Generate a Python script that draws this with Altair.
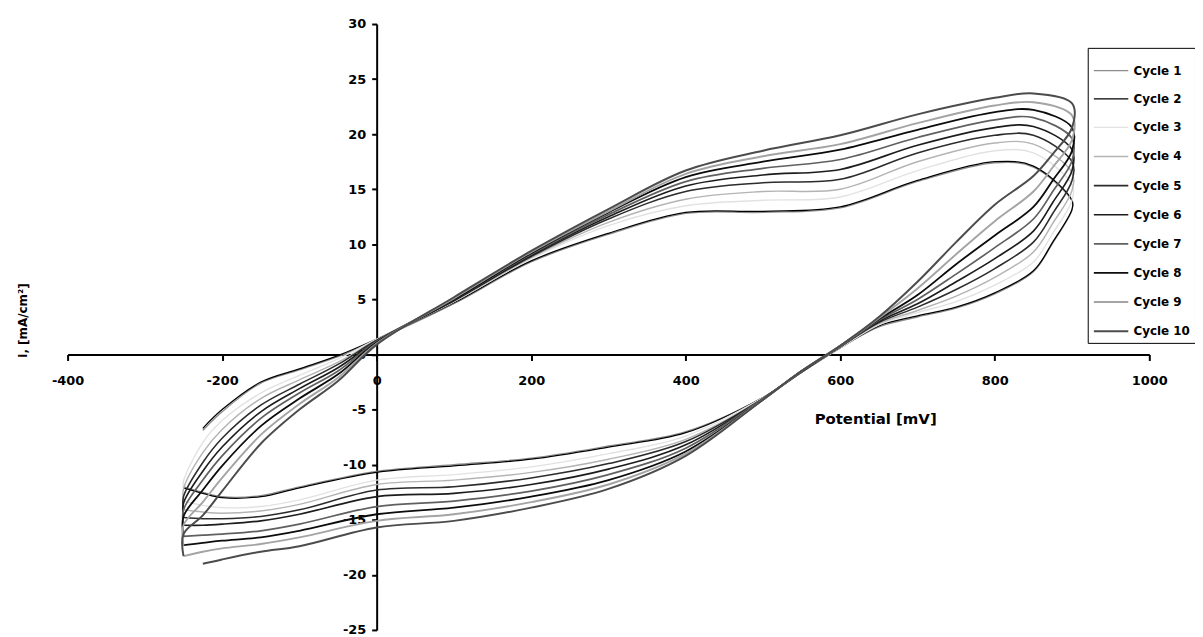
import altair as alt
import pandas as pd

cycles = [f"Cycle {n}" for n in range(1, 11)]
colors = ["#8c8c8c", "#000000", "#e2e2e2", "#b4b4b4", "#2c2c2c",
          "#1c1c1c", "#606060", "#0c0c0c", "#a4a4a4", "#4c4c4c"]
widths = [1.2, 2, 2, 2, 2, 2, 2, 2, 2, 2]

# potential grid of the anodic (forward) sweep, mV
E_an = [-250, -225, -200, -150, -100, -50, 0, 100, 200, 300, 400, 500, 600, 700, 800, 850, 900]
# potential grid of the cathodic (reverse) sweep, mV
E_ca = [900, 875, 850, 800, 750, 700, 650, 600, 550, 500, 400, 300, 200, 100, 0, -100, -150, -200, -225, -250]

# current at -250 mV where each cycle begins (end of previous cycle)
start_i = [None, None, -12.1, -13.3, -14.1, -14.8, -15.5, -16.5, -17.3, -18.3]

an1 = [None, -6.9, -5.2, -2.6, -1.4, -0.2, 1.3, 4.6, 8.4, 10.9, 12.8, 12.9, 13.3, 15.7, 17.4, 17.0, 13.9]
an2 = [None, -6.7, -5.0, -2.5, -1.3, -0.1, 1.4, 4.7, 8.5, 11.0, 12.9, 13.0, 13.4, 15.8, 17.5, 17.1, 14.0]
an3 = [-11.5, -8.0, -6.0, -3.5, -1.9, -0.4, 1.4, 4.8, 8.7, 11.7, 13.5, 14.0, 14.3, 16.7, 18.5, 18.3, 15.4]
an4 = [-12.2, -8.9, -6.8, -4.0, -2.3, -0.7, 1.3, 4.8, 8.8, 12.0, 14.1, 14.8, 15.0, 17.5, 19.2, 19.1, 16.5]
an5 = [-12.9, -9.8, -7.6, -4.6, -2.7, -0.9, 1.3, 4.9, 8.9, 12.3, 14.8, 15.6, 15.9, 18.3, 19.9, 19.9, 17.5]
an6 = [-13.5, -10.6, -8.4, -5.2, -3.1, -1.2, 1.2, 4.9, 9.0, 12.5, 15.3, 16.3, 16.8, 19.0, 20.6, 20.7, 18.6]
an7 = [-14.1, -11.4, -9.2, -5.8, -3.5, -1.5, 1.2, 5.0, 9.1, 12.7, 15.7, 16.9, 17.7, 19.7, 21.3, 21.5, 19.6]
an8 = [-14.7, -12.3, -10.1, -6.5, -4.0, -1.8, 1.1, 5.0, 9.2, 12.9, 16.1, 17.5, 18.6, 20.4, 22.0, 22.2, 20.6]
an9 = [-15.5, -13.4, -11.2, -7.3, -4.5, -2.1, 1.0, 5.1, 9.3, 13.0, 16.4, 18.0, 19.1, 21.0, 22.6, 22.9, 21.7]
an10 = [-16.3, -14.6, -12.4, -8.1, -5.0, -2.4, 0.9, 5.2, 9.4, 13.2, 16.7, 18.5, 19.9, 21.8, 23.3, 23.7, 22.8]

ca1 = [13.1, 10.1, 7.5, 5.5, 4.2, 3.4, 2.5, 0.6, -1.6, -3.9, -7.0, -8.3, -9.4, -10.0, -10.6, -12.0, -12.8, -12.9, -12.5, -12.0]
ca2 = [13.2, 10.2, 7.6, 5.6, 4.3, 3.5, 2.6, 0.6, -1.6, -3.9, -7.1, -8.4, -9.5, -10.1, -10.7, -12.1, -12.9, -13.0, -12.6, -12.1]
ca3 = [14.0, 11.0, 8.4, 6.3, 4.8, 3.8, 2.7, 0.6, -1.6, -3.9, -7.4, -9.0, -10.2, -10.9, -11.4, -13.2, -13.8, -13.9, -13.7, -13.3]
ca4 = [14.9, 11.9, 9.3, 7.0, 5.3, 4.0, 2.8, 0.7, -1.6, -4.0, -7.7, -9.5, -10.7, -11.4, -11.8, -13.6, -14.2, -14.4, -14.3, -14.1]
ca5 = [15.8, 12.8, 10.2, 7.8, 5.9, 4.3, 2.9, 0.7, -1.6, -4.0, -7.9, -9.9, -11.2, -12.0, -12.3, -14.1, -14.7, -14.9, -14.9, -14.8]
ca6 = [16.7, 13.8, 11.2, 8.7, 6.6, 4.6, 3.0, 0.7, -1.5, -4.0, -8.2, -10.4, -11.8, -12.6, -12.9, -14.5, -15.1, -15.4, -15.5, -15.5]
ca7 = [17.6, 14.8, 12.3, 9.7, 7.3, 5.0, 3.1, 0.7, -1.5, -4.0, -8.5, -10.9, -12.4, -13.3, -13.8, -15.4, -16.0, -16.3, -16.4, -16.5]
ca8 = [18.5, 15.8, 13.4, 10.8, 8.2, 5.4, 3.2, 0.8, -1.5, -4.1, -8.8, -11.4, -12.9, -13.9, -14.5, -16.0, -16.6, -16.9, -17.1, -17.3]
ca9 = [19.5, 17.0, 14.8, 12.1, 9.1, 6.0, 3.3, 0.8, -1.5, -4.1, -9.0, -11.8, -13.4, -14.5, -15.1, -16.6, -17.2, -17.6, -17.9, -18.3]
ca10 = [20.6, 18.2, 16.2, 13.6, 10.2, 6.6, 3.4, 0.8, -1.5, -4.1, -9.2, -12.2, -13.9, -15.1, -15.7, -17.4, -17.9, -18.6, -19.0, None]

x_ticks = [-400, -200, 0, 200, 400, 600, 800, 1000]
y_ticks = [-25, -20, -15, -10, -5, 0, 5, 10, 15, 20, 25, 30]

anodic = [an1, an2, an3, an4, an5, an6, an7, an8, an9, an10]
cathodic = [ca1, ca2, ca3, ca4, ca5, ca6, ca7, ca8, ca9, ca10]

rows = []
for k, name in enumerate(cycles):
    seq = 0
    if start_i[k] is not None:
        rows.append({"cycle": name, "E": -250, "i": start_i[k], "seq": seq})
        seq += 1
    for E, v in zip(E_an, anodic[k]):
        if v is not None:
            rows.append({"cycle": name, "E": E, "i": v, "seq": seq})
            seq += 1
    for E, v in zip(E_ca, cathodic[k]):
        if v is not None:
            rows.append({"cycle": name, "E": E, "i": v, "seq": seq})
            seq += 1
df = pd.DataFrame(rows)

W, H = 1089, 610
FONT = "DejaVu Sans"

x_axis = alt.Axis(
    values=x_ticks, offset=-H * 25 / 55, grid=False,
    domainColor="black", domainWidth=2, tickColor="black", tickWidth=2, tickSize=6,
    labelFont=FONT, labelFontWeight="bold", labelFontSize=13, labelColor="black",
    labelPadding=14, labelFlush=False, labelOverlap=False,
    labelExpr="'' + datum.value",
    title="Potential [mV]", titleFont=FONT, titleFontWeight="bold", titleFontSize=15,
    titleColor="black", titleX=813, titleY=64, titleAlign="center", titleBaseline="middle",
)
y_axis = alt.Axis(
    values=y_ticks, offset=-W * 400 / 1400, grid=False,
    domainColor="black", domainWidth=2, tickColor="black", tickWidth=2, tickSize=5,
    labelFont=FONT, labelFontWeight="bold", labelFontSize=13, labelColor="black",
    labelPadding=6, labelFlush=False, labelOverlap=False,
    labelExpr="'' + datum.value",
    title="i, [mA/cm²]", titleFont=FONT, titleFontWeight="bold", titleFontSize=12,
    titleColor="black", titleAngle=270, titleX=-357, titleY=298,
    titleAlign="center", titleBaseline="middle",
)

chart = alt.Chart(df).mark_line(interpolate="catmull-rom").encode(
    x=alt.X("E:Q", scale=alt.Scale(domain=[-400, 1000], nice=False, zero=False), axis=x_axis),
    y=alt.Y("i:Q", scale=alt.Scale(domain=[-25, 30], nice=False, zero=False), axis=y_axis),
    color=alt.Color("cycle:N", scale=alt.Scale(domain=cycles, range=colors),
                    legend=alt.Legend(
                        orient="none", legendX=1027, legendY=24, title=None,
                        strokeColor="black", fillColor="white", padding=5,
                        symbolType="stroke", symbolSize=1200, symbolStrokeWidth=2,
                        labelFont=FONT, labelFontWeight="bold", labelFontSize=12,
                        labelColor="black", labelOffset=4, rowPadding=4.3,
                    )),
    strokeWidth=alt.StrokeWidth("cycle:N", scale=alt.Scale(domain=cycles, range=widths), legend=None),
    order=alt.Order("seq:Q"),
).properties(
    width=W, height=H,
    autosize=alt.AutoSizeParams(type="none"),
    padding={"left": 60, "top": 14, "right": 46, "bottom": 5},
).configure_view(stroke=None)

chart.save("out.html", embed_options={"renderer": "svg", "actions": False})
